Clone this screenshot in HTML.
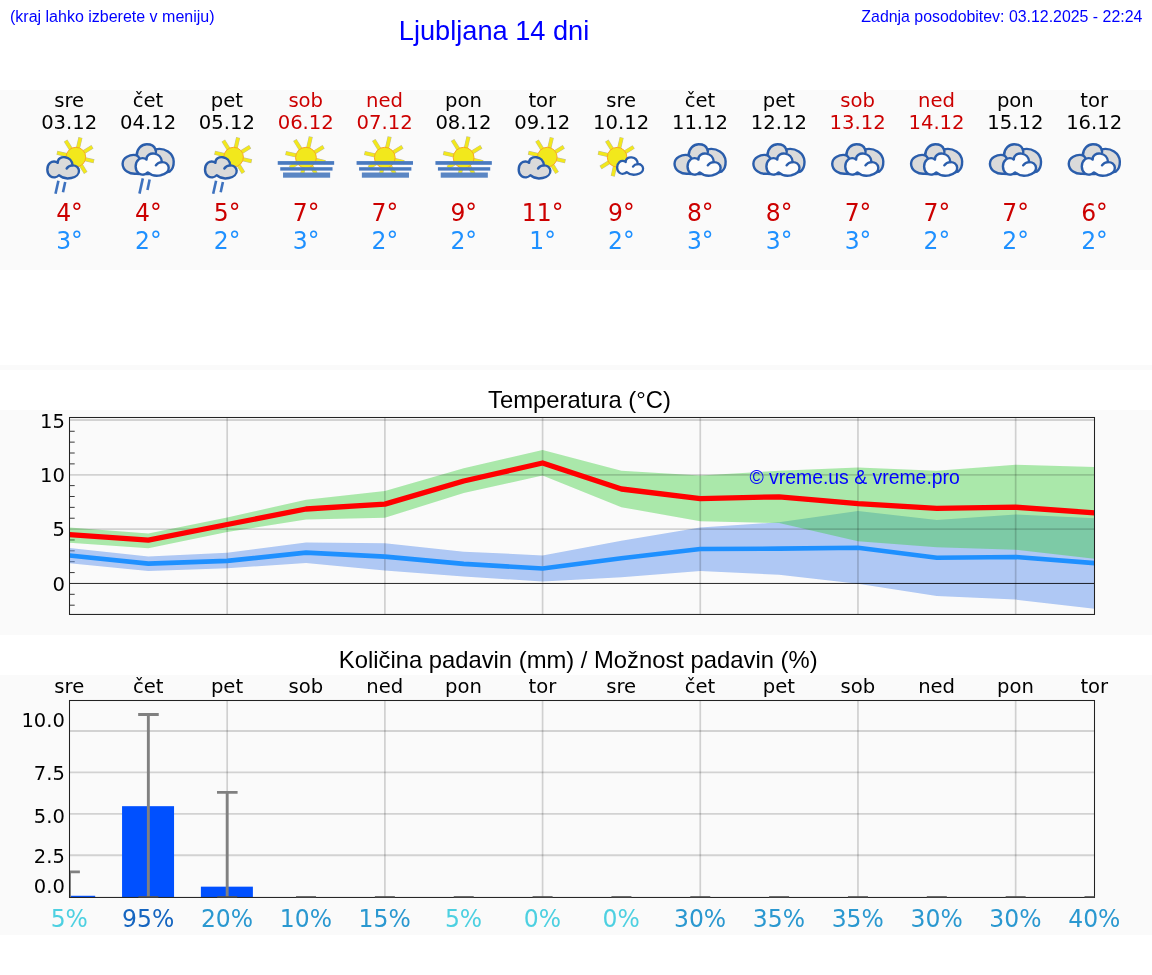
<!DOCTYPE html>
<html lang="sl">
<head>
<meta charset="utf-8">
<title>Ljubljana 14 dni</title>
<style>
html,body{margin:0;padding:0;background:#fff;}
body{width:1152px;height:975px;position:relative;overflow:hidden;font-family:"Liberation Sans",Arial,sans-serif;color:#000;}
.abs{position:absolute;display:block;}
.t{position:absolute;white-space:nowrap;line-height:1;z-index:2;}
.hint{left:10px;top:8.5px;font-size:16px;color:#0000ff;}
.upd{right:9.7px;top:8.5px;font-size:15.9px;color:#0000ff;}
h1{margin:0;font-weight:normal;left:398.8px;top:17.2px;font-size:27.2px;color:#0000ff;}
h2{margin:0;font-weight:normal;font-size:23.8px;color:#000;width:1152px;text-align:center;left:3.5px;}
.strip{left:0;top:365px;width:1152px;height:5px;background:#fafafa;}
.copy{left:749.4px;top:468.2px;font-size:19.4px;color:#0000ff;}
</style>
</head>
<body>
<div class="t hint">(kraj lahko izberete v meniju)</div>
<h1 class="t">Ljubljana 14 dni</h1>
<div class="t upd">Zadnja posodobitev: 03.12.2025 - 22:24</div>
<svg class="abs" style="left:0;top:90px" width="1152" height="180" viewBox="0 90 1152 180">
<rect x="0" y="90" width="1152" height="180" fill="#fafafa"/>
<g font-family="'DejaVu Sans', sans-serif" text-anchor="middle">
<text x="69.2" y="106.9" font-size="19.6" fill="#000">sre</text>
<text x="69.2" y="129" font-size="19.6" fill="#000">03.12</text>
<text transform="translate(69.5,220.9) scale(.97,1)" font-size="24.2" fill="#cc0000">4°</text>
<text transform="translate(69.5,249.2) scale(.97,1)" font-size="24.2" fill="#1e90ff">3°</text>
<text x="148.05" y="106.9" font-size="19.6" fill="#000">čet</text>
<text x="148.05" y="129" font-size="19.6" fill="#000">04.12</text>
<text transform="translate(148.35,220.9) scale(.97,1)" font-size="24.2" fill="#cc0000">4°</text>
<text transform="translate(148.35,249.2) scale(.97,1)" font-size="24.2" fill="#1e90ff">2°</text>
<text x="226.89" y="106.9" font-size="19.6" fill="#000">pet</text>
<text x="226.89" y="129" font-size="19.6" fill="#000">05.12</text>
<text transform="translate(227.19,220.9) scale(.97,1)" font-size="24.2" fill="#cc0000">5°</text>
<text transform="translate(227.19,249.2) scale(.97,1)" font-size="24.2" fill="#1e90ff">2°</text>
<text x="305.74" y="106.9" font-size="19.6" fill="#cc0000">sob</text>
<text x="305.74" y="129" font-size="19.6" fill="#cc0000">06.12</text>
<text transform="translate(306.04,220.9) scale(.97,1)" font-size="24.2" fill="#cc0000">7°</text>
<text transform="translate(306.04,249.2) scale(.97,1)" font-size="24.2" fill="#1e90ff">3°</text>
<text x="384.58" y="106.9" font-size="19.6" fill="#cc0000">ned</text>
<text x="384.58" y="129" font-size="19.6" fill="#cc0000">07.12</text>
<text transform="translate(384.88,220.9) scale(.97,1)" font-size="24.2" fill="#cc0000">7°</text>
<text transform="translate(384.88,249.2) scale(.97,1)" font-size="24.2" fill="#1e90ff">2°</text>
<text x="463.43" y="106.9" font-size="19.6" fill="#000">pon</text>
<text x="463.43" y="129" font-size="19.6" fill="#000">08.12</text>
<text transform="translate(463.73,220.9) scale(.97,1)" font-size="24.2" fill="#cc0000">9°</text>
<text transform="translate(463.73,249.2) scale(.97,1)" font-size="24.2" fill="#1e90ff">2°</text>
<text x="542.28" y="106.9" font-size="19.6" fill="#000">tor</text>
<text x="542.28" y="129" font-size="19.6" fill="#000">09.12</text>
<text transform="translate(542.58,220.9) scale(.97,1)" font-size="24.2" fill="#cc0000">11°</text>
<text transform="translate(542.58,249.2) scale(.97,1)" font-size="24.2" fill="#1e90ff">1°</text>
<text x="621.12" y="106.9" font-size="19.6" fill="#000">sre</text>
<text x="621.12" y="129" font-size="19.6" fill="#000">10.12</text>
<text transform="translate(621.42,220.9) scale(.97,1)" font-size="24.2" fill="#cc0000">9°</text>
<text transform="translate(621.42,249.2) scale(.97,1)" font-size="24.2" fill="#1e90ff">2°</text>
<text x="699.97" y="106.9" font-size="19.6" fill="#000">čet</text>
<text x="699.97" y="129" font-size="19.6" fill="#000">11.12</text>
<text transform="translate(700.27,220.9) scale(.97,1)" font-size="24.2" fill="#cc0000">8°</text>
<text transform="translate(700.27,249.2) scale(.97,1)" font-size="24.2" fill="#1e90ff">3°</text>
<text x="778.81" y="106.9" font-size="19.6" fill="#000">pet</text>
<text x="778.81" y="129" font-size="19.6" fill="#000">12.12</text>
<text transform="translate(779.11,220.9) scale(.97,1)" font-size="24.2" fill="#cc0000">8°</text>
<text transform="translate(779.11,249.2) scale(.97,1)" font-size="24.2" fill="#1e90ff">3°</text>
<text x="857.66" y="106.9" font-size="19.6" fill="#cc0000">sob</text>
<text x="857.66" y="129" font-size="19.6" fill="#cc0000">13.12</text>
<text transform="translate(857.96,220.9) scale(.97,1)" font-size="24.2" fill="#cc0000">7°</text>
<text transform="translate(857.96,249.2) scale(.97,1)" font-size="24.2" fill="#1e90ff">3°</text>
<text x="936.51" y="106.9" font-size="19.6" fill="#cc0000">ned</text>
<text x="936.51" y="129" font-size="19.6" fill="#cc0000">14.12</text>
<text transform="translate(936.81,220.9) scale(.97,1)" font-size="24.2" fill="#cc0000">7°</text>
<text transform="translate(936.81,249.2) scale(.97,1)" font-size="24.2" fill="#1e90ff">2°</text>
<text x="1015.35" y="106.9" font-size="19.6" fill="#000">pon</text>
<text x="1015.35" y="129" font-size="19.6" fill="#000">15.12</text>
<text transform="translate(1015.65,220.9) scale(.97,1)" font-size="24.2" fill="#cc0000">7°</text>
<text transform="translate(1015.65,249.2) scale(.97,1)" font-size="24.2" fill="#1e90ff">2°</text>
<text x="1094.2" y="106.9" font-size="19.6" fill="#000">tor</text>
<text x="1094.2" y="129" font-size="19.6" fill="#000">16.12</text>
<text transform="translate(1094.5,220.9) scale(.97,1)" font-size="24.2" fill="#cc0000">6°</text>
<text transform="translate(1094.5,249.2) scale(.97,1)" font-size="24.2" fill="#1e90ff">2°</text>
</g>
<line x1="85.16" y1="159.24" x2="94.02" y2="161.28" stroke="#bdbba0" stroke-width="4.1"/><line x1="85.16" y1="159.24" x2="93.63" y2="161.19" stroke="#f2e81c" stroke-width="3.2"/><line x1="80.93" y1="165.16" x2="85.76" y2="172.87" stroke="#bdbba0" stroke-width="4.1"/><line x1="80.93" y1="165.16" x2="85.54" y2="172.53" stroke="#f2e81c" stroke-width="3.2"/><line x1="66.64" y1="154.96" x2="56.9" y2="152.71" stroke="#bdbba0" stroke-width="4.1"/><line x1="66.64" y1="154.96" x2="57.29" y2="152.8" stroke="#f2e81c" stroke-width="3.2"/><line x1="70.87" y1="149.04" x2="65.57" y2="140.56" stroke="#bdbba0" stroke-width="4.1"/><line x1="70.87" y1="149.04" x2="65.78" y2="140.9" stroke="#f2e81c" stroke-width="3.2"/><line x1="78.04" y1="147.84" x2="80.44" y2="137.42" stroke="#bdbba0" stroke-width="4.1"/><line x1="78.04" y1="147.84" x2="80.35" y2="137.81" stroke="#f2e81c" stroke-width="3.2"/><line x1="83.96" y1="152.07" x2="92.44" y2="146.77" stroke="#bdbba0" stroke-width="4.1"/><line x1="83.96" y1="152.07" x2="92.1" y2="146.98" stroke="#f2e81c" stroke-width="3.2"/><circle cx="75.9" cy="157.1" r="9.8" fill="#f2e81c" stroke="#f7a823" stroke-width="1"/><path d="M57.75 162.92C55.9 161.08 52.21 161.08 50.05 162.92C46.36 166 46.36 173.38 50.36 176.15C53.13 178 56.82 177.38 58.98 175.23C62.05 178 66.98 178.92 71.28 178C76.21 177.08 79.28 174 78.98 170.62C78.67 167.23 75.59 165.08 72.52 165.38C72.21 160.46 68.82 157.69 65.13 157.26C61.44 156.77 57.44 158.62 57.75 162.92Z" fill="#dadada" stroke="#2a5dab" stroke-width="2.4" stroke-linejoin="round"/><path d="M72.52 165.38C70.05 165.51 67.9 166.62 66.67 168.46" fill="none" stroke="#2a5dab" stroke-width="2.4" stroke-linecap="round"/><line x1="58.4" y1="180.8" x2="55.5" y2="193.8" stroke="#3e72bf" stroke-width="2.6"/><line x1="65.2" y1="182" x2="63" y2="192.3" stroke="#3e72bf" stroke-width="2.6"/>
<path d="M136.46 173.69C129.69 174.49 122.61 170.31 122.61 163.66C122.61 157.69 129.69 153.82 136.77 155.23C136.77 148.46 142 144.28 146.8 144.28C151.23 144.28 154.43 146.31 155.41 149.38C164.77 147.23 173.38 153.38 173.69 161.38C173.87 166 172.15 169.69 169.69 171.54C161.07 174.12 142.61 174.12 136.46 173.69Z" fill="#dadada" stroke="#2a5dab" stroke-width="2.4" stroke-linejoin="round"/><path d="M136.77 155.23C138 156.15 138.92 157.26 139.66 158.74M155.41 149.38C156.03 150.62 156.15 151.85 155.78 153.08" fill="none" stroke="#2a5dab" stroke-width="2.4"/><path d="M146.52 159.55C144.59 157.62 140.73 157.62 138.48 159.55C134.63 162.76 134.63 170.48 138.81 173.37C141.7 175.3 145.56 174.66 147.81 172.41C151.02 175.3 156.17 176.27 160.67 175.3C165.81 174.34 169.03 171.12 168.71 167.59C168.39 164.05 165.17 161.8 161.96 162.12C161.63 156.98 158.1 154.08 154.24 153.63C150.38 153.12 146.2 155.05 146.52 159.55Z" fill="#fcfcfc" stroke="#2a5dab" stroke-width="2.4" stroke-linejoin="round"/><path d="M161.96 162.12C159.38 162.25 157.13 163.41 155.85 165.34" fill="none" stroke="#2a5dab" stroke-width="2.4" stroke-linecap="round"/><line x1="142.85" y1="178.4" x2="139.46" y2="193.6" stroke="#3e72bf" stroke-width="2.6"/><line x1="149.65" y1="179.6" x2="147.45" y2="189.9" stroke="#3e72bf" stroke-width="2.6"/>
<line x1="242.85" y1="159.24" x2="251.72" y2="161.28" stroke="#bdbba0" stroke-width="4.1"/><line x1="242.85" y1="159.24" x2="251.33" y2="161.19" stroke="#f2e81c" stroke-width="3.2"/><line x1="238.63" y1="165.16" x2="243.45" y2="172.87" stroke="#bdbba0" stroke-width="4.1"/><line x1="238.63" y1="165.16" x2="243.24" y2="172.53" stroke="#f2e81c" stroke-width="3.2"/><line x1="224.34" y1="154.96" x2="214.59" y2="152.71" stroke="#bdbba0" stroke-width="4.1"/><line x1="224.34" y1="154.96" x2="214.98" y2="152.8" stroke="#f2e81c" stroke-width="3.2"/><line x1="228.56" y1="149.04" x2="223.26" y2="140.56" stroke="#bdbba0" stroke-width="4.1"/><line x1="228.56" y1="149.04" x2="223.47" y2="140.9" stroke="#f2e81c" stroke-width="3.2"/><line x1="235.73" y1="147.84" x2="238.14" y2="137.42" stroke="#bdbba0" stroke-width="4.1"/><line x1="235.73" y1="147.84" x2="238.05" y2="137.81" stroke="#f2e81c" stroke-width="3.2"/><line x1="241.65" y1="152.07" x2="250.13" y2="146.77" stroke="#bdbba0" stroke-width="4.1"/><line x1="241.65" y1="152.07" x2="249.79" y2="146.98" stroke="#f2e81c" stroke-width="3.2"/><circle cx="233.59" cy="157.1" r="9.8" fill="#f2e81c" stroke="#f7a823" stroke-width="1"/><path d="M215.44 162.92C213.59 161.08 209.9 161.08 207.75 162.92C204.05 166 204.05 173.38 208.05 176.15C210.82 178 214.52 177.38 216.67 175.23C219.75 178 224.67 178.92 228.98 178C233.9 177.08 236.98 174 236.67 170.62C236.36 167.23 233.28 165.08 230.21 165.38C229.9 160.46 226.52 157.69 222.82 157.26C219.13 156.77 215.13 158.62 215.44 162.92Z" fill="#dadada" stroke="#2a5dab" stroke-width="2.4" stroke-linejoin="round"/><path d="M230.21 165.38C227.75 165.51 225.59 166.62 224.36 168.46" fill="none" stroke="#2a5dab" stroke-width="2.4" stroke-linecap="round"/><line x1="216.09" y1="180.8" x2="213.19" y2="193.8" stroke="#3e72bf" stroke-width="2.6"/><line x1="222.89" y1="182" x2="220.69" y2="192.3" stroke="#3e72bf" stroke-width="2.6"/>
<line x1="315.19" y1="159.84" x2="325.33" y2="162.18" stroke="#bdbba0" stroke-width="4.1"/><line x1="315.19" y1="159.84" x2="324.94" y2="162.09" stroke="#f2e81c" stroke-width="3.2"/><line x1="310.97" y1="165.76" x2="315.9" y2="173.64" stroke="#bdbba0" stroke-width="4.1"/><line x1="310.97" y1="165.76" x2="315.69" y2="173.3" stroke="#f2e81c" stroke-width="3.2"/><line x1="303.8" y1="166.96" x2="301.71" y2="176.02" stroke="#bdbba0" stroke-width="4.1"/><line x1="303.8" y1="166.96" x2="301.8" y2="175.63" stroke="#f2e81c" stroke-width="3.2"/><line x1="297.88" y1="162.73" x2="289.99" y2="167.66" stroke="#bdbba0" stroke-width="4.1"/><line x1="297.88" y1="162.73" x2="290.33" y2="167.45" stroke="#f2e81c" stroke-width="3.2"/><line x1="296.68" y1="155.56" x2="285.61" y2="153.01" stroke="#bdbba0" stroke-width="4.1"/><line x1="296.68" y1="155.56" x2="286" y2="153.1" stroke="#f2e81c" stroke-width="3.2"/><line x1="300.9" y1="149.64" x2="294.88" y2="140.01" stroke="#bdbba0" stroke-width="4.1"/><line x1="300.9" y1="149.64" x2="295.09" y2="140.34" stroke="#f2e81c" stroke-width="3.2"/><line x1="308.08" y1="148.44" x2="310.8" y2="136.64" stroke="#bdbba0" stroke-width="4.1"/><line x1="308.08" y1="148.44" x2="310.71" y2="137.03" stroke="#f2e81c" stroke-width="3.2"/><line x1="313.99" y1="152.67" x2="323.63" y2="146.64" stroke="#bdbba0" stroke-width="4.1"/><line x1="313.99" y1="152.67" x2="323.29" y2="146.86" stroke="#f2e81c" stroke-width="3.2"/><circle cx="305.94" cy="157.7" r="10.4" fill="#f2e81c" stroke="#f7a823" stroke-width="1"/><rect x="277.74" y="161.1" width="56.4" height="3.7" fill="#4a7ac0"/><rect x="280.24" y="167.2" width="52.3" height="3.4" fill="#4a7ac0"/><rect x="283.04" y="172.5" width="47.1" height="5.2" fill="#5a86c4"/>
<line x1="394.04" y1="159.84" x2="404.18" y2="162.18" stroke="#bdbba0" stroke-width="4.1"/><line x1="394.04" y1="159.84" x2="403.79" y2="162.09" stroke="#f2e81c" stroke-width="3.2"/><line x1="389.82" y1="165.76" x2="394.75" y2="173.64" stroke="#bdbba0" stroke-width="4.1"/><line x1="389.82" y1="165.76" x2="394.53" y2="173.3" stroke="#f2e81c" stroke-width="3.2"/><line x1="382.65" y1="166.96" x2="380.55" y2="176.02" stroke="#bdbba0" stroke-width="4.1"/><line x1="382.65" y1="166.96" x2="380.64" y2="175.63" stroke="#f2e81c" stroke-width="3.2"/><line x1="376.73" y1="162.73" x2="368.84" y2="167.66" stroke="#bdbba0" stroke-width="4.1"/><line x1="376.73" y1="162.73" x2="369.18" y2="167.45" stroke="#f2e81c" stroke-width="3.2"/><line x1="375.53" y1="155.56" x2="364.45" y2="153.01" stroke="#bdbba0" stroke-width="4.1"/><line x1="375.53" y1="155.56" x2="364.84" y2="153.1" stroke="#f2e81c" stroke-width="3.2"/><line x1="379.75" y1="149.64" x2="373.73" y2="140.01" stroke="#bdbba0" stroke-width="4.1"/><line x1="379.75" y1="149.64" x2="373.94" y2="140.34" stroke="#f2e81c" stroke-width="3.2"/><line x1="386.92" y1="148.44" x2="389.65" y2="136.64" stroke="#bdbba0" stroke-width="4.1"/><line x1="386.92" y1="148.44" x2="389.56" y2="137.03" stroke="#f2e81c" stroke-width="3.2"/><line x1="392.84" y1="152.67" x2="402.48" y2="146.64" stroke="#bdbba0" stroke-width="4.1"/><line x1="392.84" y1="152.67" x2="402.14" y2="146.86" stroke="#f2e81c" stroke-width="3.2"/><circle cx="384.78" cy="157.7" r="10.4" fill="#f2e81c" stroke="#f7a823" stroke-width="1"/><rect x="356.58" y="161.1" width="56.4" height="3.7" fill="#4a7ac0"/><rect x="359.08" y="167.2" width="52.3" height="3.4" fill="#4a7ac0"/><rect x="361.88" y="172.5" width="47.1" height="5.2" fill="#5a86c4"/>
<line x1="472.89" y1="159.84" x2="483.02" y2="162.18" stroke="#bdbba0" stroke-width="4.1"/><line x1="472.89" y1="159.84" x2="482.63" y2="162.09" stroke="#f2e81c" stroke-width="3.2"/><line x1="468.66" y1="165.76" x2="473.59" y2="173.64" stroke="#bdbba0" stroke-width="4.1"/><line x1="468.66" y1="165.76" x2="473.38" y2="173.3" stroke="#f2e81c" stroke-width="3.2"/><line x1="461.49" y1="166.96" x2="459.4" y2="176.02" stroke="#bdbba0" stroke-width="4.1"/><line x1="461.49" y1="166.96" x2="459.49" y2="175.63" stroke="#f2e81c" stroke-width="3.2"/><line x1="455.57" y1="162.73" x2="447.69" y2="167.66" stroke="#bdbba0" stroke-width="4.1"/><line x1="455.57" y1="162.73" x2="448.03" y2="167.45" stroke="#f2e81c" stroke-width="3.2"/><line x1="454.37" y1="155.56" x2="443.3" y2="153.01" stroke="#bdbba0" stroke-width="4.1"/><line x1="454.37" y1="155.56" x2="443.69" y2="153.1" stroke="#f2e81c" stroke-width="3.2"/><line x1="458.6" y1="149.64" x2="452.57" y2="140.01" stroke="#bdbba0" stroke-width="4.1"/><line x1="458.6" y1="149.64" x2="452.79" y2="140.34" stroke="#f2e81c" stroke-width="3.2"/><line x1="465.77" y1="148.44" x2="468.49" y2="136.64" stroke="#bdbba0" stroke-width="4.1"/><line x1="465.77" y1="148.44" x2="468.4" y2="137.03" stroke="#f2e81c" stroke-width="3.2"/><line x1="471.69" y1="152.67" x2="481.32" y2="146.64" stroke="#bdbba0" stroke-width="4.1"/><line x1="471.69" y1="152.67" x2="480.99" y2="146.86" stroke="#f2e81c" stroke-width="3.2"/><circle cx="463.63" cy="157.7" r="10.4" fill="#f2e81c" stroke="#f7a823" stroke-width="1"/><rect x="435.43" y="161.1" width="56.4" height="3.7" fill="#4a7ac0"/><rect x="437.93" y="167.2" width="52.3" height="3.4" fill="#4a7ac0"/><rect x="440.73" y="172.5" width="47.1" height="5.2" fill="#5a86c4"/>
<line x1="556.53" y1="159.24" x2="565.4" y2="161.28" stroke="#bdbba0" stroke-width="4.1"/><line x1="556.53" y1="159.24" x2="565.01" y2="161.19" stroke="#f2e81c" stroke-width="3.2"/><line x1="552.31" y1="165.16" x2="557.13" y2="172.87" stroke="#bdbba0" stroke-width="4.1"/><line x1="552.31" y1="165.16" x2="556.92" y2="172.53" stroke="#f2e81c" stroke-width="3.2"/><line x1="538.02" y1="154.96" x2="528.28" y2="152.71" stroke="#bdbba0" stroke-width="4.1"/><line x1="538.02" y1="154.96" x2="528.67" y2="152.8" stroke="#f2e81c" stroke-width="3.2"/><line x1="542.24" y1="149.04" x2="536.94" y2="140.56" stroke="#bdbba0" stroke-width="4.1"/><line x1="542.24" y1="149.04" x2="537.15" y2="140.9" stroke="#f2e81c" stroke-width="3.2"/><line x1="549.41" y1="147.84" x2="551.82" y2="137.42" stroke="#bdbba0" stroke-width="4.1"/><line x1="549.41" y1="147.84" x2="551.73" y2="137.81" stroke="#f2e81c" stroke-width="3.2"/><line x1="555.33" y1="152.07" x2="563.81" y2="146.77" stroke="#bdbba0" stroke-width="4.1"/><line x1="555.33" y1="152.07" x2="563.47" y2="146.98" stroke="#f2e81c" stroke-width="3.2"/><circle cx="547.28" cy="157.1" r="9.8" fill="#f2e81c" stroke="#f7a823" stroke-width="1"/><path d="M529.12 162.92C527.28 161.08 523.58 161.08 521.43 162.92C517.74 166 517.74 173.38 521.74 176.15C524.51 178 528.2 177.38 530.35 175.23C533.43 178 538.35 178.92 542.66 178C547.58 177.08 550.66 174 550.35 170.62C550.05 167.23 546.97 165.08 543.89 165.38C543.58 160.46 540.2 157.69 536.51 157.26C532.81 156.77 528.81 158.62 529.12 162.92Z" fill="#dadada" stroke="#2a5dab" stroke-width="2.4" stroke-linejoin="round"/><path d="M543.89 165.38C541.43 165.51 539.28 166.62 538.05 168.46" fill="none" stroke="#2a5dab" stroke-width="2.4" stroke-linecap="round"/>
<line x1="626.38" y1="159.34" x2="635.25" y2="161.38" stroke="#bdbba0" stroke-width="4.1"/><line x1="626.38" y1="159.34" x2="634.86" y2="161.29" stroke="#f2e81c" stroke-width="3.2"/><line x1="622.16" y1="165.26" x2="626.98" y2="172.97" stroke="#bdbba0" stroke-width="4.1"/><line x1="622.16" y1="165.26" x2="626.77" y2="172.63" stroke="#f2e81c" stroke-width="3.2"/><line x1="614.98" y1="166.46" x2="612.74" y2="176.2" stroke="#bdbba0" stroke-width="4.1"/><line x1="614.98" y1="166.46" x2="612.83" y2="175.81" stroke="#f2e81c" stroke-width="3.2"/><line x1="609.07" y1="162.23" x2="600.59" y2="167.53" stroke="#bdbba0" stroke-width="4.1"/><line x1="609.07" y1="162.23" x2="600.92" y2="167.32" stroke="#f2e81c" stroke-width="3.2"/><line x1="607.87" y1="155.06" x2="598.12" y2="152.81" stroke="#bdbba0" stroke-width="4.1"/><line x1="607.87" y1="155.06" x2="598.51" y2="152.9" stroke="#f2e81c" stroke-width="3.2"/><line x1="612.09" y1="149.14" x2="606.79" y2="140.66" stroke="#bdbba0" stroke-width="4.1"/><line x1="612.09" y1="149.14" x2="607" y2="141" stroke="#f2e81c" stroke-width="3.2"/><line x1="619.26" y1="147.94" x2="621.67" y2="137.52" stroke="#bdbba0" stroke-width="4.1"/><line x1="619.26" y1="147.94" x2="621.58" y2="137.91" stroke="#f2e81c" stroke-width="3.2"/><line x1="625.18" y1="152.17" x2="633.66" y2="146.87" stroke="#bdbba0" stroke-width="4.1"/><line x1="625.18" y1="152.17" x2="633.32" y2="147.08" stroke="#f2e81c" stroke-width="3.2"/><circle cx="617.12" cy="157.2" r="9.8" fill="#f2e81c" stroke="#f7a823" stroke-width="1"/><path d="M625.67 162.01C624.16 160.5 621.13 160.5 619.36 162.01C616.34 164.54 616.34 170.59 619.62 172.86C621.89 174.38 624.91 173.87 626.68 172.11C629.2 174.38 633.24 175.13 636.77 174.38C640.81 173.62 643.33 171.1 643.08 168.32C642.83 165.55 640.31 163.78 637.78 164.03C637.53 159.99 634.75 157.72 631.73 157.37C628.7 156.97 625.42 158.48 625.67 162.01Z" fill="#fcfcfc" stroke="#2a5dab" stroke-width="2.3" stroke-linejoin="round"/><path d="M637.78 164.03C635.76 164.13 634 165.04 632.99 166.55" fill="none" stroke="#2a5dab" stroke-width="2.3" stroke-linecap="round"/>
<path d="M688.38 173.69C681.61 174.49 674.53 170.31 674.53 163.66C674.53 157.69 681.61 153.82 688.69 155.23C688.69 148.46 693.92 144.28 698.72 144.28C703.15 144.28 706.35 146.31 707.33 149.38C716.69 147.23 725.3 153.38 725.61 161.38C725.79 166 724.07 169.69 721.61 171.54C712.99 174.12 694.53 174.12 688.38 173.69Z" fill="#dadada" stroke="#2a5dab" stroke-width="2.4" stroke-linejoin="round"/><path d="M688.69 155.23C689.92 156.15 690.84 157.26 691.58 158.74M707.33 149.38C707.95 150.62 708.07 151.85 707.7 153.08" fill="none" stroke="#2a5dab" stroke-width="2.4"/><path d="M698.44 159.55C696.51 157.62 692.66 157.62 690.41 159.55C686.55 162.76 686.55 170.48 690.73 173.37C693.62 175.3 697.48 174.66 699.73 172.41C702.95 175.3 708.09 176.27 712.59 175.3C717.74 174.34 720.95 171.12 720.63 167.59C720.31 164.05 717.09 161.8 713.88 162.12C713.56 156.98 710.02 154.08 706.16 153.63C702.3 153.12 698.12 155.05 698.44 159.55Z" fill="#fcfcfc" stroke="#2a5dab" stroke-width="2.4" stroke-linejoin="round"/><path d="M713.88 162.12C711.31 162.25 709.05 163.41 707.77 165.34" fill="none" stroke="#2a5dab" stroke-width="2.4" stroke-linecap="round"/>
<path d="M767.23 173.69C760.46 174.49 753.38 170.31 753.38 163.66C753.38 157.69 760.46 153.82 767.53 155.23C767.53 148.46 772.76 144.28 777.56 144.28C781.99 144.28 785.19 146.31 786.18 149.38C795.53 147.23 804.15 153.38 804.46 161.38C804.64 166 802.92 169.69 800.46 171.54C791.84 174.12 773.38 174.12 767.23 173.69Z" fill="#dadada" stroke="#2a5dab" stroke-width="2.4" stroke-linejoin="round"/><path d="M767.53 155.23C768.76 156.15 769.69 157.26 770.43 158.74M786.18 149.38C786.79 150.62 786.92 151.85 786.55 153.08" fill="none" stroke="#2a5dab" stroke-width="2.4"/><path d="M777.29 159.55C775.36 157.62 771.5 157.62 769.25 159.55C765.39 162.76 765.39 170.48 769.57 173.37C772.47 175.3 776.33 174.66 778.58 172.41C781.79 175.3 786.94 176.27 791.44 175.3C796.58 174.34 799.8 171.12 799.48 167.59C799.15 164.05 795.94 161.8 792.72 162.12C792.4 156.98 788.87 154.08 785.01 153.63C781.15 153.12 776.97 155.05 777.29 159.55Z" fill="#fcfcfc" stroke="#2a5dab" stroke-width="2.4" stroke-linejoin="round"/><path d="M792.72 162.12C790.15 162.25 787.9 163.41 786.61 165.34" fill="none" stroke="#2a5dab" stroke-width="2.4" stroke-linecap="round"/>
<path d="M846.07 173.69C839.3 174.49 832.23 170.31 832.23 163.66C832.23 157.69 839.3 153.82 846.38 155.23C846.38 148.46 851.61 144.28 856.41 144.28C860.84 144.28 864.04 146.31 865.03 149.38C874.38 147.23 882.99 153.38 883.3 161.38C883.49 166 881.76 169.69 879.3 171.54C870.69 174.12 852.23 174.12 846.07 173.69Z" fill="#dadada" stroke="#2a5dab" stroke-width="2.4" stroke-linejoin="round"/><path d="M846.38 155.23C847.61 156.15 848.53 157.26 849.27 158.74M865.03 149.38C865.64 150.62 865.76 151.85 865.39 153.08" fill="none" stroke="#2a5dab" stroke-width="2.4"/><path d="M856.14 159.55C854.21 157.62 850.35 157.62 848.1 159.55C844.24 162.76 844.24 170.48 848.42 173.37C851.31 175.3 855.17 174.66 857.42 172.41C860.64 175.3 865.78 176.27 870.28 175.3C875.43 174.34 878.64 171.12 878.32 167.59C878 164.05 874.79 161.8 871.57 162.12C871.25 156.98 867.71 154.08 863.85 153.63C859.99 153.12 855.81 155.05 856.14 159.55Z" fill="#fcfcfc" stroke="#2a5dab" stroke-width="2.4" stroke-linejoin="round"/><path d="M871.57 162.12C869 162.25 866.75 163.41 865.46 165.34" fill="none" stroke="#2a5dab" stroke-width="2.4" stroke-linecap="round"/>
<path d="M924.92 173.69C918.15 174.49 911.07 170.31 911.07 163.66C911.07 157.69 918.15 153.82 925.23 155.23C925.23 148.46 930.46 144.28 935.26 144.28C939.69 144.28 942.89 146.31 943.87 149.38C953.23 147.23 961.84 153.38 962.15 161.38C962.33 166 960.61 169.69 958.15 171.54C949.53 174.12 931.07 174.12 924.92 173.69Z" fill="#dadada" stroke="#2a5dab" stroke-width="2.4" stroke-linejoin="round"/><path d="M925.23 155.23C926.46 156.15 927.38 157.26 928.12 158.74M943.87 149.38C944.49 150.62 944.61 151.85 944.24 153.08" fill="none" stroke="#2a5dab" stroke-width="2.4"/><path d="M934.98 159.55C933.05 157.62 929.19 157.62 926.94 159.55C923.09 162.76 923.09 170.48 927.27 173.37C930.16 175.3 934.02 174.66 936.27 172.41C939.48 175.3 944.63 176.27 949.13 175.3C954.27 174.34 957.49 171.12 957.17 167.59C956.85 164.05 953.63 161.8 950.42 162.12C950.09 156.98 946.56 154.08 942.7 153.63C938.84 153.12 934.66 155.05 934.98 159.55Z" fill="#fcfcfc" stroke="#2a5dab" stroke-width="2.4" stroke-linejoin="round"/><path d="M950.42 162.12C947.84 162.25 945.59 163.41 944.31 165.34" fill="none" stroke="#2a5dab" stroke-width="2.4" stroke-linecap="round"/>
<path d="M1003.76 173.69C996.99 174.49 989.92 170.31 989.92 163.66C989.92 157.69 996.99 153.82 1004.07 155.23C1004.07 148.46 1009.3 144.28 1014.1 144.28C1018.53 144.28 1021.73 146.31 1022.72 149.38C1032.07 147.23 1040.69 153.38 1040.99 161.38C1041.18 166 1039.46 169.69 1036.99 171.54C1028.38 174.12 1009.92 174.12 1003.76 173.69Z" fill="#dadada" stroke="#2a5dab" stroke-width="2.4" stroke-linejoin="round"/><path d="M1004.07 155.23C1005.3 156.15 1006.23 157.26 1006.96 158.74M1022.72 149.38C1023.33 150.62 1023.46 151.85 1023.09 153.08" fill="none" stroke="#2a5dab" stroke-width="2.4"/><path d="M1013.83 159.55C1011.9 157.62 1008.04 157.62 1005.79 159.55C1001.93 162.76 1001.93 170.48 1006.11 173.37C1009.01 175.3 1012.86 174.66 1015.11 172.41C1018.33 175.3 1023.47 176.27 1027.98 175.3C1033.12 174.34 1036.34 171.12 1036.01 167.59C1035.69 164.05 1032.48 161.8 1029.26 162.12C1028.94 156.98 1025.4 154.08 1021.55 153.63C1017.69 153.12 1013.51 155.05 1013.83 159.55Z" fill="#fcfcfc" stroke="#2a5dab" stroke-width="2.4" stroke-linejoin="round"/><path d="M1029.26 162.12C1026.69 162.25 1024.44 163.41 1023.15 165.34" fill="none" stroke="#2a5dab" stroke-width="2.4" stroke-linecap="round"/>
<path d="M1082.61 173.69C1075.84 174.49 1068.76 170.31 1068.76 163.66C1068.76 157.69 1075.84 153.82 1082.92 155.23C1082.92 148.46 1088.15 144.28 1092.95 144.28C1097.38 144.28 1100.58 146.31 1101.56 149.38C1110.92 147.23 1119.53 153.38 1119.84 161.38C1120.02 166 1118.3 169.69 1115.84 171.54C1107.22 174.12 1088.76 174.12 1082.61 173.69Z" fill="#dadada" stroke="#2a5dab" stroke-width="2.4" stroke-linejoin="round"/><path d="M1082.92 155.23C1084.15 156.15 1085.07 157.26 1085.81 158.74M1101.56 149.38C1102.18 150.62 1102.3 151.85 1101.93 153.08" fill="none" stroke="#2a5dab" stroke-width="2.4"/><path d="M1092.67 159.55C1090.74 157.62 1086.89 157.62 1084.64 159.55C1080.78 162.76 1080.78 170.48 1084.96 173.37C1087.85 175.3 1091.71 174.66 1093.96 172.41C1097.18 175.3 1102.32 176.27 1106.82 175.3C1111.97 174.34 1115.18 171.12 1114.86 167.59C1114.54 164.05 1111.32 161.8 1108.11 162.12C1107.79 156.98 1104.25 154.08 1100.39 153.63C1096.53 153.12 1092.35 155.05 1092.67 159.55Z" fill="#fcfcfc" stroke="#2a5dab" stroke-width="2.4" stroke-linejoin="round"/><path d="M1108.11 162.12C1105.54 162.25 1103.28 163.41 1102 165.34" fill="none" stroke="#2a5dab" stroke-width="2.4" stroke-linecap="round"/>
</svg>
<div class="abs strip"></div>
<h2 class="t" style="top:387.8px">Temperatura (°C)</h2>
<svg class="abs" style="left:0;top:410px" width="1152" height="225" viewBox="0 410 1152 225">
<rect x="0" y="410" width="1152" height="225" fill="#fafafa"/>
<clipPath id="tc"><rect x="69.5" y="417.5" width="1025" height="196.95"/></clipPath>
<line x1="69.5" y1="605.19" x2="74.7" y2="605.19" stroke="#222" stroke-width="0.9"/>
<line x1="69.5" y1="594.32" x2="74.7" y2="594.32" stroke="#222" stroke-width="0.9"/>
<line x1="69.5" y1="572.58" x2="74.7" y2="572.58" stroke="#222" stroke-width="0.9"/>
<line x1="69.5" y1="561.71" x2="74.7" y2="561.71" stroke="#222" stroke-width="0.9"/>
<line x1="69.5" y1="550.84" x2="74.7" y2="550.84" stroke="#222" stroke-width="0.9"/>
<line x1="69.5" y1="539.97" x2="74.7" y2="539.97" stroke="#222" stroke-width="0.9"/>
<line x1="69.5" y1="518.23" x2="74.7" y2="518.23" stroke="#222" stroke-width="0.9"/>
<line x1="69.5" y1="507.36" x2="74.7" y2="507.36" stroke="#222" stroke-width="0.9"/>
<line x1="69.5" y1="496.49" x2="74.7" y2="496.49" stroke="#222" stroke-width="0.9"/>
<line x1="69.5" y1="485.62" x2="74.7" y2="485.62" stroke="#222" stroke-width="0.9"/>
<line x1="69.5" y1="463.88" x2="74.7" y2="463.88" stroke="#222" stroke-width="0.9"/>
<line x1="69.5" y1="453.01" x2="74.7" y2="453.01" stroke="#222" stroke-width="0.9"/>
<line x1="69.5" y1="442.14" x2="74.7" y2="442.14" stroke="#222" stroke-width="0.9"/>
<line x1="69.5" y1="431.27" x2="74.7" y2="431.27" stroke="#222" stroke-width="0.9"/>
<g clip-path="url(#tc)">
<polygon points="69.5,548.1 148.35,556.6 227.19,552.7 306.04,542.5 384.88,543.2 463.73,551.7 542.58,555.4 621.42,540.8 700.27,527.4 779.11,522.3 857.96,510.9 936.81,519.9 1015.65,514.5 1094.5,518.2 1094.5,608.8 1015.65,599.6 936.81,596 857.96,583.8 779.11,574.8 700.27,570.9 621.42,577.2 542.58,581.4 463.73,576.5 384.88,570.4 306.04,563.1 227.19,568.2 148.35,570.9 69.5,563.2" fill="#6495ed" fill-opacity="0.5"/>
<polygon points="69.5,527.4 148.35,533.6 227.19,517.5 306.04,499.7 384.88,490.9 463.73,468.3 542.58,450.1 621.42,470.8 700.27,475.6 779.11,470.8 857.96,467.6 936.81,470.8 1015.65,464.7 1094.5,467.1 1094.5,558.8 1015.65,549.8 936.81,547.3 857.96,541.3 779.11,523 700.27,521.3 621.42,507.2 542.58,475.6 463.73,493.1 384.88,517.7 306.04,519.4 227.19,532.1 148.35,548.2 69.5,542.7" fill="#32cd32" fill-opacity="0.4"/>
<line x1="227.19" y1="417.5" x2="227.19" y2="614.45" stroke="#000" stroke-opacity="0.17" stroke-width="1.7"/>
<line x1="384.88" y1="417.5" x2="384.88" y2="614.45" stroke="#000" stroke-opacity="0.17" stroke-width="1.7"/>
<line x1="542.58" y1="417.5" x2="542.58" y2="614.45" stroke="#000" stroke-opacity="0.17" stroke-width="1.7"/>
<line x1="700.27" y1="417.5" x2="700.27" y2="614.45" stroke="#000" stroke-opacity="0.17" stroke-width="1.7"/>
<line x1="857.96" y1="417.5" x2="857.96" y2="614.45" stroke="#000" stroke-opacity="0.17" stroke-width="1.7"/>
<line x1="1015.65" y1="417.5" x2="1015.65" y2="614.45" stroke="#000" stroke-opacity="0.17" stroke-width="1.7"/>
<line x1="69.5" y1="529.15" x2="1094.5" y2="529.15" stroke="#000" stroke-opacity="0.155" stroke-width="1.85"/>
<line x1="69.5" y1="474.9" x2="1094.5" y2="474.9" stroke="#000" stroke-opacity="0.155" stroke-width="1.85"/>
<line x1="69.5" y1="420.0" x2="1094.5" y2="420.0" stroke="#000" stroke-opacity="0.155" stroke-width="1.85"/>
<line x1="69.5" y1="583.45" x2="1094.5" y2="583.45" stroke="#000" stroke-opacity="0.85" stroke-width="1"/>
<polyline points="69.5,555.5 148.35,563.6 227.19,560.9 306.04,552.6 384.88,556.6 463.73,563.9 542.58,568.5 621.42,558.3 700.27,549 779.11,548.6 857.96,547.8 936.81,557.8 1015.65,557 1094.5,563.1" fill="none" stroke="#1e90ff" stroke-width="4.6" stroke-linejoin="round"/>
<polyline points="69.5,534.7 148.35,540.1 227.19,524.5 306.04,509 384.88,504.1 463.73,481 542.58,463 621.42,489 700.27,498.7 779.11,496.8 857.96,503.6 936.81,508.4 1015.65,507.2 1094.5,512.8" fill="none" stroke="#ff0000" stroke-width="5.3" stroke-linejoin="round"/>
</g>
<rect x="69.5" y="417.5" width="1025" height="196.95" fill="none" stroke="#222" stroke-width="1.05"/>
<g font-family="'DejaVu Sans', sans-serif" font-size="19.6" text-anchor="end" fill="#000">
<text x="65" y="590.75">0</text>
<text x="65" y="536.4">5</text>
<text x="65" y="482.05">10</text>
<text x="65" y="427.7">15</text>
</g>
</svg>
<div class="t copy">© vreme.us &amp; vreme.pro</div>
<h2 class="t" style="top:647.7px;left:2.2px">Količina padavin (mm) / Možnost padavin (%)</h2>
<svg class="abs" style="left:0;top:675px" width="1152" height="260" viewBox="0 675 1152 260">
<rect x="0" y="675" width="1152" height="260" fill="#fafafa"/>
<g font-family="'DejaVu Sans', sans-serif" text-anchor="middle">
<text x="69.3" y="692.6" font-size="19.6" fill="#000">sre</text>
<text transform="translate(69.3,926.9) scale(.955,1)" font-size="24.6" fill="#4dd0e1">5%</text>
<text x="148.15" y="692.6" font-size="19.6" fill="#000">čet</text>
<text transform="translate(148.15,926.9) scale(.955,1)" font-size="24.6" fill="#1565c0">95%</text>
<text x="226.99" y="692.6" font-size="19.6" fill="#000">pet</text>
<text transform="translate(226.99,926.9) scale(.955,1)" font-size="24.6" fill="#2a98d0">20%</text>
<text x="305.84" y="692.6" font-size="19.6" fill="#000">sob</text>
<text transform="translate(305.84,926.9) scale(.955,1)" font-size="24.6" fill="#2a98d0">10%</text>
<text x="384.68" y="692.6" font-size="19.6" fill="#000">ned</text>
<text transform="translate(384.68,926.9) scale(.955,1)" font-size="24.6" fill="#2a98d0">15%</text>
<text x="463.53" y="692.6" font-size="19.6" fill="#000">pon</text>
<text transform="translate(463.53,926.9) scale(.955,1)" font-size="24.6" fill="#4dd0e1">5%</text>
<text x="542.38" y="692.6" font-size="19.6" fill="#000">tor</text>
<text transform="translate(542.38,926.9) scale(.955,1)" font-size="24.6" fill="#4dd0e1">0%</text>
<text x="621.22" y="692.6" font-size="19.6" fill="#000">sre</text>
<text transform="translate(621.22,926.9) scale(.955,1)" font-size="24.6" fill="#4dd0e1">0%</text>
<text x="700.07" y="692.6" font-size="19.6" fill="#000">čet</text>
<text transform="translate(700.07,926.9) scale(.955,1)" font-size="24.6" fill="#2a98d0">30%</text>
<text x="778.91" y="692.6" font-size="19.6" fill="#000">pet</text>
<text transform="translate(778.91,926.9) scale(.955,1)" font-size="24.6" fill="#2a98d0">35%</text>
<text x="857.76" y="692.6" font-size="19.6" fill="#000">sob</text>
<text transform="translate(857.76,926.9) scale(.955,1)" font-size="24.6" fill="#2a98d0">35%</text>
<text x="936.61" y="692.6" font-size="19.6" fill="#000">ned</text>
<text transform="translate(936.61,926.9) scale(.955,1)" font-size="24.6" fill="#2a98d0">30%</text>
<text x="1015.45" y="692.6" font-size="19.6" fill="#000">pon</text>
<text transform="translate(1015.45,926.9) scale(.955,1)" font-size="24.6" fill="#2a98d0">30%</text>
<text x="1094.3" y="692.6" font-size="19.6" fill="#000">tor</text>
<text transform="translate(1094.3,926.9) scale(.955,1)" font-size="24.6" fill="#2a98d0">40%</text>
</g>
<clipPath id="pc"><rect x="69.5" y="700.5" width="1025" height="196.95"/></clipPath>
<g clip-path="url(#pc)">
<line x1="69.5" y1="855.2" x2="1094.5" y2="855.2" stroke="#000" stroke-opacity="0.155" stroke-width="1.85"/>
<line x1="69.5" y1="813.8" x2="1094.5" y2="813.8" stroke="#000" stroke-opacity="0.155" stroke-width="1.85"/>
<line x1="69.5" y1="772.4" x2="1094.5" y2="772.4" stroke="#000" stroke-opacity="0.155" stroke-width="1.85"/>
<line x1="69.5" y1="731" x2="1094.5" y2="731" stroke="#000" stroke-opacity="0.155" stroke-width="1.85"/>
<line x1="227.19" y1="700.5" x2="227.19" y2="897.45" stroke="#000" stroke-opacity="0.17" stroke-width="1.7"/>
<line x1="384.88" y1="700.5" x2="384.88" y2="897.45" stroke="#000" stroke-opacity="0.17" stroke-width="1.7"/>
<line x1="542.58" y1="700.5" x2="542.58" y2="897.45" stroke="#000" stroke-opacity="0.17" stroke-width="1.7"/>
<line x1="700.27" y1="700.5" x2="700.27" y2="897.45" stroke="#000" stroke-opacity="0.17" stroke-width="1.7"/>
<line x1="857.96" y1="700.5" x2="857.96" y2="897.45" stroke="#000" stroke-opacity="0.17" stroke-width="1.7"/>
<line x1="1015.65" y1="700.5" x2="1015.65" y2="897.45" stroke="#000" stroke-opacity="0.17" stroke-width="1.7"/>
<rect x="43.2" y="895.77" width="52" height="1.68" fill="#0050ff"/>
<rect x="122.05" y="806.18" width="52" height="91.27" fill="#0050ff"/>
<rect x="200.89" y="886.66" width="52" height="10.79" fill="#0050ff"/>
<line x1="69.5" y1="871.76" x2="69.5" y2="897.45" stroke="#808080" stroke-width="2.9"/>
<line x1="59.3" y1="871.86" x2="79.9" y2="871.86" stroke="#808080" stroke-width="2.9"/>
<line x1="148.35" y1="714.44" x2="148.35" y2="897.45" stroke="#808080" stroke-width="2.9"/>
<line x1="138.15" y1="714.54" x2="158.75" y2="714.54" stroke="#808080" stroke-width="2.9"/>
<line x1="227.19" y1="792.27" x2="227.19" y2="897.45" stroke="#808080" stroke-width="2.9"/>
<line x1="216.99" y1="792.37" x2="237.59" y2="792.37" stroke="#808080" stroke-width="2.9"/>
</g>
<rect x="69.5" y="700.5" width="1025" height="196.95" fill="none" stroke="#222" stroke-width="1.05"/>
<line x1="138.35" y1="896.85" x2="158.35" y2="896.85" stroke="#555" stroke-width="1.4"/>
<line x1="217.19" y1="896.85" x2="237.19" y2="896.85" stroke="#555" stroke-width="1.4"/>
<line x1="296.04" y1="896.85" x2="316.04" y2="896.85" stroke="#555" stroke-width="1.4"/>
<line x1="374.88" y1="896.85" x2="394.88" y2="896.85" stroke="#555" stroke-width="1.4"/>
<line x1="453.73" y1="896.85" x2="473.73" y2="896.85" stroke="#555" stroke-width="1.4"/>
<line x1="532.58" y1="896.85" x2="552.58" y2="896.85" stroke="#555" stroke-width="1.4"/>
<line x1="611.42" y1="896.85" x2="631.42" y2="896.85" stroke="#555" stroke-width="1.4"/>
<line x1="690.27" y1="896.85" x2="710.27" y2="896.85" stroke="#555" stroke-width="1.4"/>
<line x1="769.11" y1="896.85" x2="789.11" y2="896.85" stroke="#555" stroke-width="1.4"/>
<line x1="847.96" y1="896.85" x2="867.96" y2="896.85" stroke="#555" stroke-width="1.4"/>
<line x1="926.81" y1="896.85" x2="946.81" y2="896.85" stroke="#555" stroke-width="1.4"/>
<line x1="1005.65" y1="896.85" x2="1025.65" y2="896.85" stroke="#555" stroke-width="1.4"/>
<line x1="1084.5" y1="896.85" x2="1094.5" y2="896.85" stroke="#555" stroke-width="1.4"/>
<g font-family="'DejaVu Sans', sans-serif" font-size="19.5" text-anchor="end" fill="#000">
<text x="64.8" y="727.1">10.0</text>
<text x="64.8" y="779.9">7.5</text>
<text x="64.8" y="823">5.0</text>
<text x="64.8" y="863.3">2.5</text>
<text x="64.8" y="893.4">0.0</text>
</g>
</svg>
</body>
</html>
